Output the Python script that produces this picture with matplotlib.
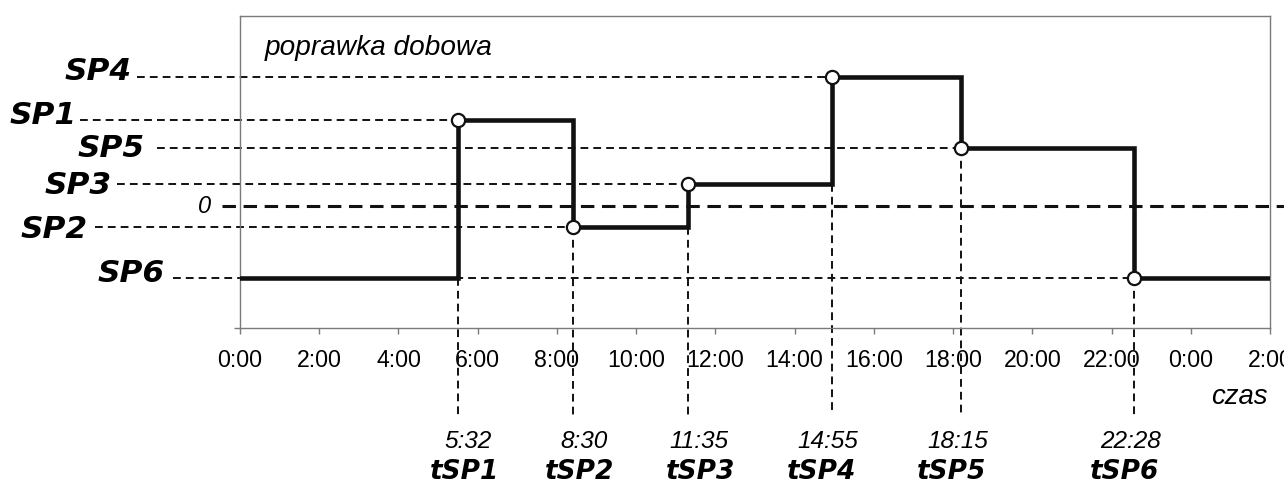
import matplotlib
matplotlib.use("Agg")
import matplotlib.pyplot as plt

# switching points of the daily correction
sp_names = ["SP1", "SP2", "SP3", "SP4", "SP5", "SP6"]
sp_levels = [8.6, -2.1, 2.2, 12.9, 5.8, -7.2]
sp_times = [5.50, 8.40, 11.31, 14.95, 18.19, 22.57]
time_labels = ["5:32", "8:30", "11:35", "14:55", "18:15", "22:28"]
time_names = ["tSP1", "tSP2", "tSP3", "tSP4", "tSP5", "tSP6"]
hour_ticks = list(range(0, 27, 2))
hour_tick_labels = ["0:00", "2:00", "4:00", "6:00", "8:00", "10:00", "12:00",
                    "14:00", "16:00", "18:00", "20:00", "22:00", "0:00", "2:00"]

# layout (pixels of the 1284x486 picture)
W, H = 1284, 486
AX_L, AX_R, AX_T, AX_B = 240, 1270, 16, 328
XMIN, XMAX = 0, 26
YMIN, YMAX = -12.2, 19.0
label_right = [77, 88, 112, 132, 145, 165]
label_dy = [-5, 2, 1, -6, 0, -5]
dash_start = [80, 95, 117, 137, 157, 173]
time_dx = [10.5, 11, 11, -4, -3, -4]
name_dx = [7, 7, 12, -10.5, -9, -9.5]


def px_x(px):
    return XMIN + (px - AX_L) / (AX_R - AX_L) * (XMAX - XMIN)


def px_y(py):
    return YMAX - (py - AX_T) / (AX_B - AX_T) * (YMAX - YMIN)


plt.rcParams['font.family'] = ['Liberation Sans', 'DejaVu Sans']
PT = 72 / 100  # points per pixel at dpi 100

fig = plt.figure(figsize=(W / 100, H / 100), dpi=100)
ax = fig.add_axes([AX_L / W, 1 - AX_B / H, (AX_R - AX_L) / W, (AX_B - AX_T) / H])
ax.set_xlim(XMIN, XMAX)
ax.set_ylim(YMIN, YMAX)

for side in ['left', 'right', 'top', 'bottom']:
    ax.spines[side].set_color('#7a7a7a')
    ax.spines[side].set_linewidth(1.0)

ax.set_xticks(hour_ticks)
ax.set_xticklabels(hour_tick_labels, fontsize=16.7)
ax.set_yticks([YMIN])
ax.set_yticklabels([])
ax.tick_params(axis='both', direction='out', length=6 * PT, width=1.0,
               color='#7a7a7a', pad=11)

thin = dict(color='#111111', lw=1.4, dashes=(4, 2.6), clip_on=False, zorder=2)
y_bottom = px_y(415)

# horizontal guide lines with the seven-segment style labels
for i, name in enumerate(sp_names):
    ax.plot([px_x(dash_start[i]), sp_times[i]], [sp_levels[i], sp_levels[i]], **thin)
    ax.annotate(name, xy=(px_x(label_right[i]), sp_levels[i]),
                xytext=(0, -label_dy[i] * PT), textcoords='offset points',
                ha='right', va='center', fontsize=22.5, fontweight='bold',
                fontstyle='oblique', family='DejaVu Sans', annotation_clip=False)

# vertical guide lines down to the switching times
prev = [sp_levels[-1]] + sp_levels[:-1]
for i, t in enumerate(sp_times):
    low = min(prev[i], sp_levels[i])
    ax.plot([t, t], [low, y_bottom], **thin)
    ax.annotate(time_labels[i], xy=(t, px_y(441)), xytext=(time_dx[i] * PT, 0),
                textcoords='offset points', ha='center', va='center',
                fontsize=17.6, fontstyle='italic', annotation_clip=False)
    ax.annotate(time_names[i], xy=(t, px_y(472)), xytext=(name_dx[i] * PT, 0),
                textcoords='offset points', ha='center', va='center',
                fontsize=19, fontweight='bold', fontstyle='oblique',
                family='DejaVu Sans', annotation_clip=False)

# zero line
ax.plot([px_x(222), px_x(W)], [0, 0], color='#111111', lw=2.2,
        dashes=(4.4, 2.5), clip_on=False, zorder=2)
ax.text(px_x(211), 0, "0", ha='right', va='center', fontsize=17,
        fontstyle='italic')

# step profile
step_t = [XMIN] + sp_times + [XMAX]
step_v = [sp_levels[-1]] + sp_levels + [sp_levels[-1]]
ax.plot(step_t, step_v, drawstyle='steps-post', color='#111111', lw=3.3,
        solid_joinstyle='miter', zorder=3)
ax.plot(sp_times, sp_levels, 'o', ms=9.5, mfc='white', mec='#111111',
        mew=1.6, zorder=4)

ax.text(px_x(265), px_y(55), "poprawka dobowa", ha='left', va='baseline',
        fontsize=20.2, fontstyle='italic')
ax.text(px_x(1268), px_y(397), "czas", ha='right', va='center', fontsize=19.8,
        fontstyle='italic', clip_on=False)

fig.savefig("out.png", dpi=100)
